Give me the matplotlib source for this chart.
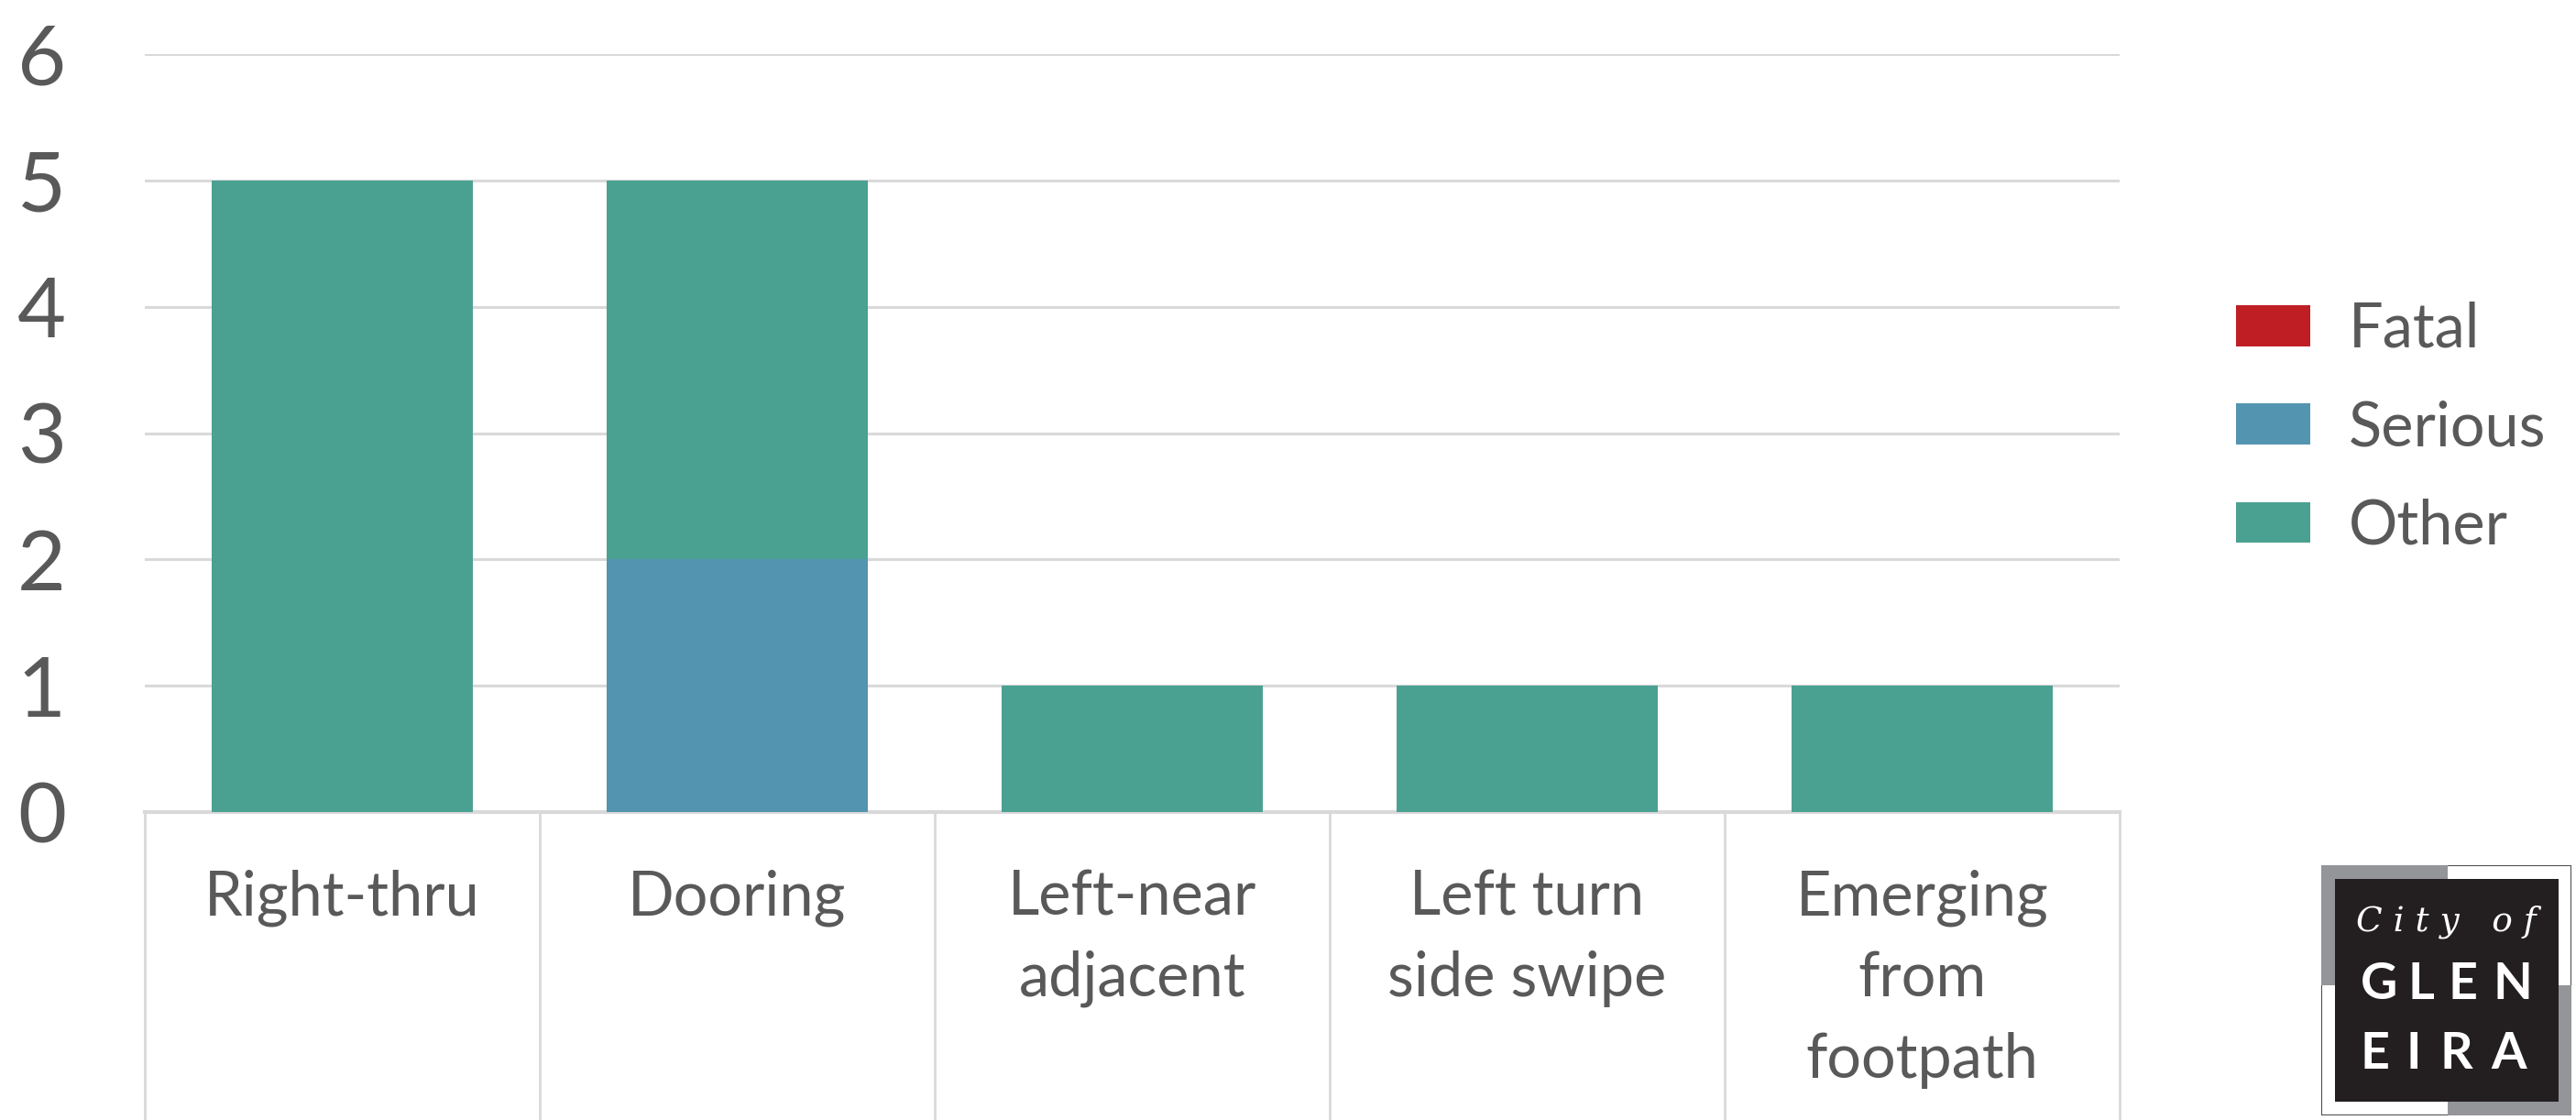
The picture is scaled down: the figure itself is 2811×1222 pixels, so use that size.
import matplotlib.pyplot as plt
from matplotlib.patches import Rectangle

plt.rcParams['font.family'] = ['Lato', 'DejaVu Sans']

# Chart data
categories = ["Right-thru", "Dooring", "Left-near\nadjacent", "Left turn\nside swipe", "Emerging\nfrom\nfootpath"]
fatal = [0, 0, 0, 0, 0]
serious = [0, 2, 0, 0, 0]
other = [5, 3, 1, 1, 1]
yticks = [0, 1, 2, 3, 4, 5, 6]

TEXT = "#595959"
GRID = "#d9d9d9"
COLORS = {"Fatal": "#be1e24", "Serious": "#5394b0", "Other": "#4aa191"}

W, H = 2811, 1222
fig = plt.figure(figsize=(W / 100, H / 100), dpi=100)

# axes in pixel terms: left 158, right 2313, top 59, bottom 886
ax = fig.add_axes([158 / W, 1 - 886 / H, (2313 - 158) / W, (886 - 59) / H])

x = list(range(len(categories)))
bottom_other = [f + s for f, s in zip(fatal, serious)]
ax.bar(x, fatal, width=0.66, color=COLORS["Fatal"], label="Fatal", zorder=3)
ax.bar(x, serious, width=0.66, bottom=fatal, color=COLORS["Serious"], label="Serious", zorder=3)
ax.bar(x, other, width=0.66, bottom=bottom_other, color=COLORS["Other"], label="Other", zorder=3)

ax.set_xlim(-0.5, len(categories) - 0.5)
ax.set_ylim(0, 6)
ax.set_yticks(yticks)
ax.set_yticklabels([str(v) for v in yticks], fontsize=66, color=TEXT, ha="center")
ax.tick_params(axis="y", length=0, pad=81)
ax.set_xticks([])
for s in ax.spines.values():
    s.set_visible(False)
for v in yticks[1:]:
    ax.axhline(v, color=GRID, lw=2.2, zorder=1)

# category table below the axis
below = -(H - 886) / (886 - 59)
trans = ax.get_xaxis_transform()
ax.plot([-0.5, len(categories) - 0.5], [0, 0], color=GRID, lw=3, transform=trans, clip_on=False)
for b in [i - 0.5 for i in range(len(categories) + 1)]:
    ax.plot([b, b], [0, below], color=GRID, lw=2, transform=trans, clip_on=False)
for xi, lab in zip(x, categories):
    ax.text(xi, -0.075, lab, transform=trans, ha="center", va="top", fontsize=48,
            color=TEXT, linespacing=1.53)

fig.legend(loc="center left", bbox_to_anchor=(2440 / W, 1 - 467 / H), frameon=False,
           fontsize=48, handlelength=1.22, handleheight=0.65, handletextpad=0.62,
           labelspacing=0.68, borderpad=0, borderaxespad=0, labelcolor=TEXT)

# City of Glen Eira logo
lx0, lx1, ly0, ly1 = 2533, 2806, 944, 1217
lax = fig.add_axes([lx0 / W, 1 - ly1 / H, (lx1 - lx0) / W, (ly1 - ly0) / H])
lax.set_xlim(lx0, lx1)
lax.set_ylim(ly1, ly0)
lax.axis("off")
mx, my = 2671, 1075
lax.add_patch(Rectangle((lx0, ly0), lx1 - lx0, ly1 - ly0, facecolor="white", edgecolor="#4d4d4d", lw=1.5))
lax.add_patch(Rectangle((lx0, ly0), mx - lx0, my - ly0, facecolor="#939598", lw=0))
lax.add_patch(Rectangle((mx, my), lx1 - mx, ly1 - my, facecolor="#939598", lw=0))
lax.add_patch(Rectangle((2548, 959), 2792 - 2548, 1202 - 959, facecolor="#231f20", lw=0))
lax.text(2669, 1006, "C i t y   o f", ha="center", va="center", color="white", fontsize=27,
         family="DejaVu Serif", style="italic")
for cx, ch in zip([2596, 2642, 2688, 2742], "GLEN"):
    lax.text(cx, 1074, ch, ha="center", va="center", color="white", fontsize=40, fontweight="bold")
for cx, ch in zip([2592, 2634, 2680, 2738], "EIRA"):
    lax.text(cx, 1150, ch, ha="center", va="center", color="white", fontsize=40, fontweight="bold")

fig.savefig("out.png", dpi=100, facecolor="white")
